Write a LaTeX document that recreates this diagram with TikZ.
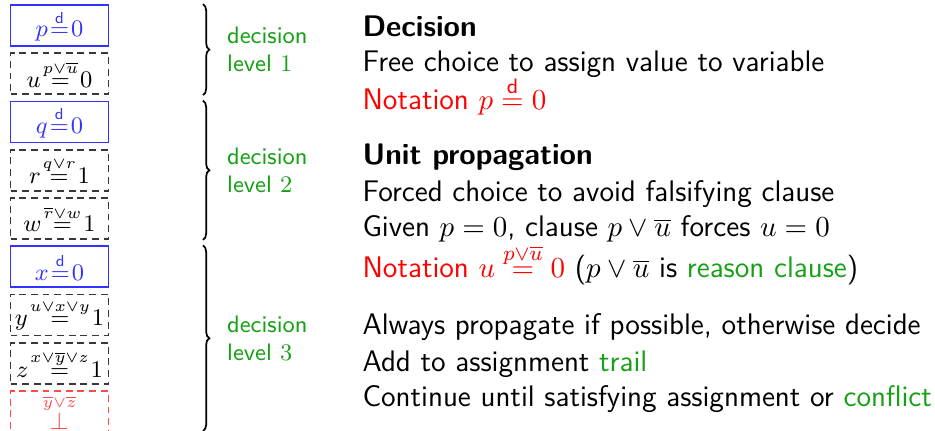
\documentclass[tikz,border=0pt]{standalone}
\usepackage{fontspec}
\usepackage{amsmath}
\usetikzlibrary{positioning,decorations.pathreplacing,calc}
\definecolor{decblue}{HTML}{3333FF}
\definecolor{propgray}{HTML}{383838}
\definecolor{conflred}{HTML}{FF4A4A}
\definecolor{notered}{HTML}{FF0000}
\definecolor{levelgreen}{HTML}{16A016}

\newcommand{\deceq}{\stackrel{\textsf{d}}{=}}
\newcommand{\byeq}[1]{\stackrel{#1}{=}}
\newcommand{\tightrel}{\thickmuskip=1.5mu\relax}

\begin{document}
\begin{tikzpicture}[x=0.378pt, y=-0.378pt,
  font=\sffamily\fontsize{11.25}{13.8}\selectfont,
  every node/.style={font=\sffamily\fontsize{11.25}{13.8}\selectfont},
  trailbox/.style={minimum width=37pt, minimum height=15.5pt, inner sep=0.3pt,
    font=\fontsize{9}{11}\selectfont\tightrel},
  decbox/.style={trailbox, draw=decblue, text=decblue, line width=0.6pt},
  propbox/.style={trailbox, draw=propgray, line width=0.65pt, dash pattern=on 2.6pt off 1.8pt},
  conflbox/.style={trailbox, draw=conflred, text=conflred, line width=0.65pt, dash pattern=on 2.6pt off 1.8pt},
  levelbrace/.style={decorate, decoration={brace, amplitude=2.4pt}, line width=0.65pt},
  levellabel/.style={text=levelgreen, align=left, font=\sffamily\fontsize{9}{10.5}\selectfont, right=5.5pt},
  line/.style={anchor=base west, inner sep=0pt}
]
\useasboundingbox (0,0) rectangle (935,431);

% Trail of assignments
\node[decbox]   (tp) at (59.5,25.5)  {$p \deceq 0$};
\node[propbox]  (tu) at (59.5,73.75) {$u \byeq{p\lor\overline{u}} 0$};
\node[decbox]   (tq) at (59.5,122)   {$q \deceq 0$};
\node[propbox]  (tr) at (59.5,170.25){$r \byeq{q\lor r} 1$};
\node[propbox]  (tw) at (59.5,218.5) {$w \byeq{\overline{r}\lor w} 1$};
\node[decbox]   (tx) at (59.5,266.75){$x \deceq 0$};
\node[propbox]  (ty) at (59.5,315)   {$y \byeq{u\lor x\lor y} 1$};
\node[propbox]  (tz) at (59.5,363.25){$z \byeq{x\lor\overline{y}\lor z} 1$};
\node[conflbox] (tk) at (59.5,411.5) {$\stackrel{\overline{y}\lor\overline{z}}{\bot}$};

% Decision levels
\coordinate (bx) at (203,0);
\draw[levelbrace] (tp.north -| bx) -- node[levellabel] (lv1) {decision\\level $1$} (tu.south -| bx);
\draw[levelbrace] (tq.north -| bx) -- node[levellabel] (lv2) {decision\\level $2$} (tw.south -| bx);
\draw[levelbrace] (tx.north -| bx) -- node[levellabel] (lv3) {decision\\level $3$} (203,431);

% Explanations
\node[line, font=\sffamily\bfseries\fontsize{11.25}{13.8}\selectfont] (hdec) at (362,37) {Decision};
\node[line] (tfree) at (362,72) {Free choice to assign value to variable};
\node[line, text=notered] (tnot1) at (362,110) {Notation $p \deceq 0$};

\node[line, font=\sffamily\bfseries\fontsize{11.25}{13.8}\selectfont] (hunit) at (362,165) {Unit propagation};
\node[line] (tforced) at (362,202) {Forced choice to avoid falsifying clause};
\node[line] (tgiven) at (362,237) {Given $p=0$, clause $p\lor\overline{u}$ forces $u=0$};
\node[line] (tnot2) at (362,278) {\textcolor{notered}{Notation $u \byeq{p\lor\overline{u}} 0$} ($p\lor\overline{u}$ is \textcolor{levelgreen}{reason clause})};

\node[line] (talways) at (362,335) {Always propagate if possible, otherwise decide};
\node[line] (tadd) at (362,372) {Add to assignment \textcolor{levelgreen}{trail}};
\node[line] (tcont) at (362,407) {Continue until satisfying assignment or \textcolor{levelgreen}{conflict}};
\end{tikzpicture}
\end{document}
